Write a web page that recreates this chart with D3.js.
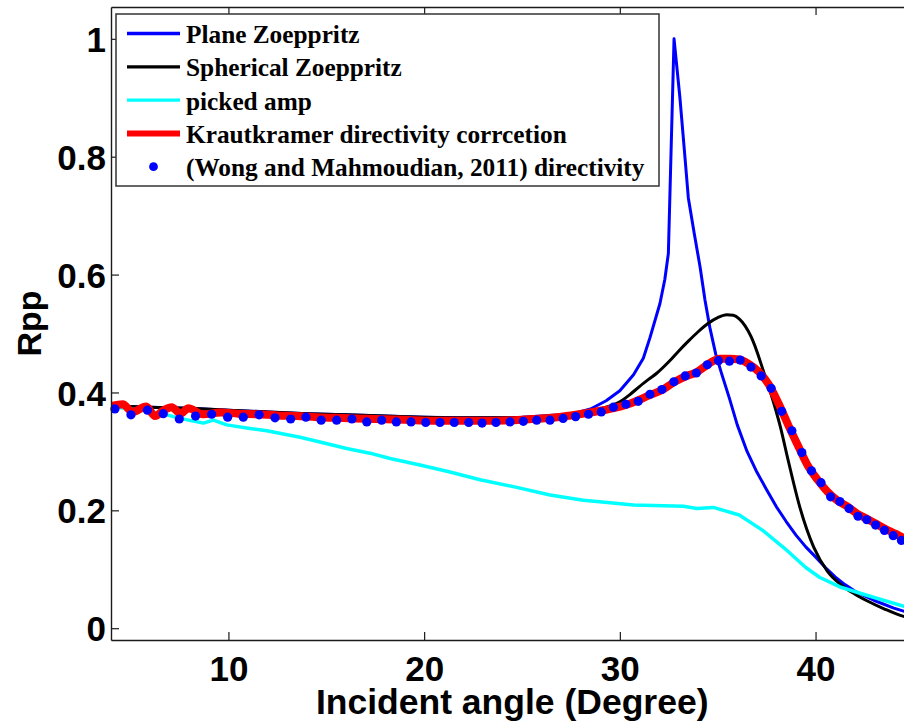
<!DOCTYPE html>
<html>
<head>
<meta charset="utf-8">
<script src="https://cdn.jsdelivr.net/npm/d3@7"></script>
<style>
  html, body { margin: 0; padding: 0; background: #fff; }
  svg { display: block; }
</style>
</head>
<body>
<svg id="chart" width="904" height="721"></svg>
<script>
// Incident angle (degrees) vs. P-P reflection coefficient

// Plane-wave Zoeppritz solution
const planeAngle = [4, 6, 8, 10, 12, 14, 16, 18, 20, 22, 24, 25, 26, 27, 27.6, 28.5, 29.3, 30, 30.7, 31.2, 31.54, 32.05, 32.3, 32.48, 32.77, 33.07, 33.3, 33.5, 33.8, 34.1, 34.35, 34.6, 34.9, 35.2, 35.6, 36, 36.5, 37, 37.5, 38, 38.5, 39, 39.5, 40, 40.5, 41, 41.5, 42, 43, 44, 45];
const planeRpp   = [0.377, 0.375, 0.373, 0.370, 0.367, 0.364, 0.362, 0.360, 0.358, 0.357, 0.357, 0.358, 0.360, 0.362, 0.364, 0.372, 0.386, 0.403, 0.430, 0.458, 0.493, 0.551, 0.592, 0.636, 1.0, 0.900, 0.810, 0.730, 0.670, 0.613, 0.557, 0.510, 0.465, 0.432, 0.390, 0.345, 0.300, 0.265, 0.235, 0.206, 0.181, 0.158, 0.138, 0.121, 0.103, 0.087, 0.074, 0.063, 0.047, 0.034, 0.024];

// Spherical-wave Zoeppritz solution
const spherAngle = [4, 6, 8, 10, 12, 14, 16, 18, 20, 22, 24, 25, 26, 27, 28.1, 28.5, 29, 29.5, 30, 30.5, 31, 31.5, 31.9, 32.5, 33, 33.5, 34, 34.5, 35, 35.46, 35.8, 36.1, 36.4, 36.7, 37, 37.3, 37.7, 38.2, 38.6, 39.2, 39.9, 40.6, 41.25, 42, 42.6, 43.5, 44.5, 45];
const spherRpp   = [0.377, 0.375, 0.373, 0.370, 0.367, 0.364, 0.362, 0.360, 0.358, 0.357, 0.357, 0.357, 0.358, 0.361, 0.365, 0.368, 0.372, 0.377, 0.384, 0.396, 0.410, 0.423, 0.433, 0.452, 0.470, 0.487, 0.503, 0.517, 0.527, 0.532, 0.531, 0.525, 0.513, 0.495, 0.470, 0.440, 0.400, 0.342, 0.285, 0.205, 0.138, 0.097, 0.075, 0.058, 0.047, 0.033, 0.020, 0.016];

// Picked amplitudes
const pickedAngle = [4, 5, 6, 6.85, 7.53, 8.72, 9.23, 9.91, 11.1, 11.96, 13.66, 14.68, 16.04, 17.23, 18.26, 19.79, 21.32, 22.86, 24.73, 26.43, 28.13, 29.5, 30.69, 33.25, 33.93, 34.78, 36.1, 37.3, 38.4, 39.5, 40.22, 41.25, 42.61, 44.52, 45];
const pickedRpp   = [0.376, 0.372, 0.368, 0.362, 0.356, 0.348, 0.353, 0.345, 0.339, 0.335, 0.324, 0.316, 0.305, 0.297, 0.288, 0.277, 0.265, 0.252, 0.239, 0.226, 0.217, 0.213, 0.209, 0.207, 0.203, 0.205, 0.192, 0.166, 0.136, 0.103, 0.086, 0.070, 0.056, 0.037, 0.034];

// Krautkramer directivity correction
const krautAngle = [4, 4.6, 5.1, 5.8, 6.25, 6.7, 7.1, 7.55, 7.95, 8.7, 9.6, 10.5, 11.5, 12.5, 13.5, 14.5, 15.5, 16.5, 17.5, 18.5, 19.5, 20.5, 21.5, 22.5, 23.5, 24.5, 25.5, 26.5, 27.5, 28.5, 29.5, 30.5, 31.5, 32.2, 32.8, 33.4, 33.9, 34.3, 34.7, 35.1, 35.6, 36.1, 36.6, 37.1, 37.6, 38.1, 38.6, 39.1, 39.6, 40.1, 40.6, 41.1, 41.6, 42.1, 42.6, 43.1, 43.6, 44.1, 44.6, 45];
const krautRpp   = [0.377, 0.380, 0.367, 0.376, 0.360, 0.370, 0.375, 0.364, 0.373, 0.363, 0.366, 0.364, 0.363, 0.361, 0.360, 0.358, 0.357, 0.356, 0.355, 0.354, 0.353, 0.352, 0.352, 0.352, 0.352, 0.353, 0.355, 0.357, 0.361, 0.366, 0.372, 0.381, 0.395, 0.405, 0.418, 0.428, 0.434, 0.443, 0.452, 0.457, 0.457, 0.456, 0.448, 0.435, 0.414, 0.382, 0.345, 0.310, 0.276, 0.252, 0.232, 0.217, 0.207, 0.195, 0.186, 0.177, 0.168, 0.160, 0.151, 0.145];

// (Wong and Mahmoudian, 2011) directivity
const wongAngle = [4.20, 5.02, 5.86, 6.67, 7.49, 8.32, 9.14, 9.96, 10.76, 11.57, 12.38, 13.18, 13.96, 14.74, 15.53, 16.31, 17.07, 17.83, 18.58, 19.33, 20.08, 20.81, 21.54, 22.28, 22.96, 23.67, 24.39, 25.07, 25.75, 26.43, 27.10, 27.74, 28.40, 29.05, 29.67, 30.31, 30.94, 31.54, 32.15, 32.76, 33.34, 33.91, 34.47, 35.04, 35.60, 36.15, 36.70, 37.22, 37.73, 38.27, 38.79, 39.30, 39.79, 40.28, 40.77, 41.24, 41.71, 42.17, 42.62, 43.07, 43.52, 43.97, 44.39];
const wongRpp   = [0.372, 0.362, 0.370, 0.364, 0.355, 0.360, 0.363, 0.358, 0.358, 0.362, 0.357, 0.355, 0.358, 0.353, 0.353, 0.355, 0.350, 0.353, 0.350, 0.350, 0.349, 0.349, 0.349, 0.349, 0.348, 0.349, 0.350, 0.351, 0.353, 0.353, 0.356, 0.359, 0.363, 0.367, 0.375, 0.380, 0.385, 0.397, 0.405, 0.418, 0.428, 0.433, 0.447, 0.454, 0.453, 0.455, 0.443, 0.428, 0.407, 0.368, 0.335, 0.298, 0.267, 0.247, 0.223, 0.215, 0.203, 0.190, 0.184, 0.175, 0.166, 0.157, 0.149];

// Axis ticks and labels
const xTicks = [10, 20, 30, 40];
const yTicks = [0, 0.2, 0.4, 0.6, 0.8, 1];
const yTickLabels = ["0", "0.2", "0.4", "0.6", "0.8", "1"];
const xTitle = "Incident angle (Degree)";
const yTitle = "Rpp";

const legendLabels = [
  "Plane Zoeppritz",
  "Spherical Zoeppritz",
  "picked amp",
  "Krautkramer directivity corrcetion",
  "(Wong and Mahmoudian, 2011) directivity"
];

// ---- layout ----
const plotLeft = 111, plotRight = 913.4, plotTop = 7, plotBottom = 640;
const sansFont = "'Liberation Sans', Arial, Helvetica, sans-serif";
const serifFont = "'Liberation Serif', 'Times New Roman', Times, serif";

const svg = d3.select("#chart");
svg.append("rect").attr("width", 904).attr("height", 721).attr("fill", "#fff");

const x = d3.scaleLinear().domain([4, 45]).range([plotLeft, plotRight]);
const y = d3.scaleLinear().domain([-0.02, 1.054]).range([plotBottom, plotTop]);

svg.append("defs").append("clipPath").attr("id", "plotClip")
  .append("rect")
  .attr("x", plotLeft).attr("y", plotTop)
  .attr("width", plotRight - plotLeft).attr("height", plotBottom - plotTop);

const straight = d3.line().x(d => x(d[0])).y(d => y(d[1]));
const smooth = d3.line().x(d => x(d[0])).y(d => y(d[1])).curve(d3.curveMonotoneX);
const zip = (a, b) => a.map((v, i) => [v, b[i]]);

const series = [
  { pts: zip(planeAngle, planeRpp),   color: "#0000ff", width: 3,   gen: straight },
  { pts: zip(spherAngle, spherRpp),   color: "#000000", width: 3,   gen: smooth },
  { pts: zip(pickedAngle, pickedRpp), color: "#00ffff", width: 3.5, gen: straight },
  { pts: zip(krautAngle, krautRpp),   color: "#ff0000", width: 8,   gen: smooth }
];

const plotG = svg.append("g").attr("clip-path", "url(#plotClip)");
plotG.selectAll("path.series")
  .data(series)
  .join("path")
  .attr("class", "series")
  .attr("d", d => d.gen(d.pts))
  .attr("fill", "none")
  .attr("stroke", d => d.color)
  .attr("stroke-width", d => d.width)
  .attr("stroke-linejoin", "round")
  .attr("stroke-linecap", "round");

svg.append("g").selectAll("circle")
  .data(zip(wongAngle, wongRpp))
  .join("circle")
  .attr("cx", d => x(d[0]))
  .attr("cy", d => y(d[1]))
  .attr("r", 4.6)
  .attr("fill", "#0000ff");

// ---- axes (ticks point inward, box on top) ----
const axisColor = "#1a1a1a";

const xAxis = svg.append("g")
  .attr("transform", `translate(0,${plotBottom})`)
  .call(d3.axisBottom(x).tickValues(xTicks).tickSizeInner(-8).tickSizeOuter(0).tickPadding(16));

const xAxisTop = svg.append("g")
  .attr("transform", `translate(0,${plotTop})`)
  .call(d3.axisTop(x).tickValues(xTicks).tickSizeInner(-8).tickSizeOuter(0).tickFormat(""));

const yAxis = svg.append("g")
  .attr("transform", `translate(${plotLeft},0)`)
  .call(d3.axisLeft(y).tickValues(yTicks).tickSizeInner(-8).tickSizeOuter(0).tickPadding(5)
    .tickFormat((d, i) => yTickLabels[i]));

[xAxis, xAxisTop, yAxis].forEach(g => {
  g.select(".domain").attr("stroke", axisColor).attr("stroke-width", 1.4);
  g.selectAll(".tick line").attr("stroke", axisColor).attr("stroke-width", 1.2);
  g.selectAll(".tick text")
    .attr("fill", "#000")
    .style("font-family", sansFont)
    .style("font-weight", "bold")
    .style("font-size", "35px");
});
yAxis.selectAll(".tick text").attr("dy", "0.36em");

// axis titles
svg.append("text")
  .attr("x", (plotLeft + plotRight) / 2)
  .attr("y", 714)
  .attr("text-anchor", "middle")
  .style("font-family", sansFont)
  .style("font-weight", "bold")
  .style("font-size", "35.5px")
  .text(xTitle);

svg.append("text")
  .attr("transform", `translate(41,${(plotTop + plotBottom) / 2}) rotate(-90)`)
  .attr("text-anchor", "middle")
  .style("font-family", sansFont)
  .style("font-weight", "bold")
  .style("font-size", "34px")
  .text(yTitle);

// ---- legend ----
const legend = svg.append("g");
legend.append("rect")
  .attr("x", 116).attr("y", 14)
  .attr("width", 543).attr("height", 172)
  .attr("fill", "#fff")
  .attr("stroke", "#333")
  .attr("stroke-width", 1.5);

const legendItems = [
  { type: "line", color: "#0000ff", width: 3.3 },
  { type: "line", color: "#000000", width: 3.3 },
  { type: "line", color: "#00ffff", width: 3.3 },
  { type: "line", color: "#ff0000", width: 6 },
  { type: "dot",  color: "#0000ff" }
];

const rowY = i => 33.5 + i * 33.3;
const rows = legend.selectAll("g.row")
  .data(legendItems)
  .join("g")
  .attr("class", "row")
  .attr("transform", (d, i) => `translate(0,${rowY(i)})`);

rows.filter(d => d.type === "line").append("line")
  .attr("x1", 127).attr("x2", 180)
  .attr("y1", 0).attr("y2", 0)
  .attr("stroke", d => d.color)
  .attr("stroke-width", d => d.width);

rows.filter(d => d.type === "dot").append("circle")
  .attr("cx", 153.5).attr("cy", 0).attr("r", 4.4)
  .attr("fill", d => d.color);

rows.append("text")
  .attr("x", 186)
  .attr("y", 9.5)
  .style("font-family", serifFont)
  .style("font-weight", "bold")
  .style("font-size", "25.3px")
  .attr("fill", "#000")
  .text((d, i) => legendLabels[i]);
</script>
</body>
</html>
